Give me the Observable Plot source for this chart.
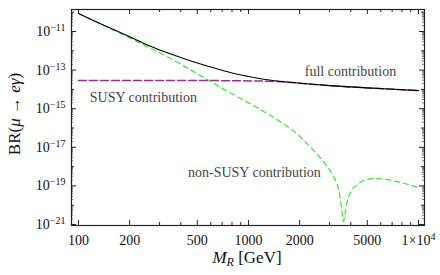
<!DOCTYPE html>
<html>
<head>
<meta charset="utf-8">
<script src="https://cdn.jsdelivr.net/npm/d3@7"></script>
<script src="https://cdn.jsdelivr.net/npm/@observablehq/plot@0.6"></script>
<style>
  html, body { margin: 0; padding: 0; background: #fff; }
  #chart { width: 440px; height: 275px; }
</style>
</head>
<body>
<div id="chart"></div>
<script>
// ---- data (M_R in GeV, BR values) ----
const massFull = [100, 150, 200, 265, 350, 450, 600, 800, 1000, 1300, 1700, 2000, 3000, 5000, 10000];
const brFull   = [8.5e-11, 1.66e-11, 5.4e-12, 1.74e-12, 6.8e-13, 3.16e-13, 1.45e-13, 7.1e-14, 4.7e-14, 3.16e-14, 2.4e-14, 2.09e-14, 1.58e-14, 1.2e-14, 8.7e-15];

const massSusy = [100, 300, 600, 1000, 1300, 1700, 2000, 3000, 5000, 10000];
const brSusy   = [2.9e-14, 2.9e-14, 2.88e-14, 2.75e-14, 2.66e-14, 2.37e-14, 2.09e-14, 1.58e-14, 1.2e-14, 8.7e-15];

const massNonSusy = [100, 150, 210, 265, 335, 415, 575, 685, 1030, 1180, 1700, 1860, 2020, 2320, 2650, 2880, 3160, 3380, 3520, 3620, 3770, 3980, 4380, 4750, 5590, 6570, 7840, 10000];
const brNonSusy   = [8.5e-11, 1.58e-11, 3.8e-12, 1.35e-12, 4.8e-13, 1.66e-13, 3.16e-14, 1.26e-14, 1.78e-15, 8.9e-16, 1.17e-16, 6.6e-17, 3.4e-17, 1.0e-17, 2.8e-18, 1.12e-18, 3.16e-19, 7.1e-20, 8.9e-21, 1.45e-21, 1.1e-20, 4.6e-20, 1.17e-19, 1.9e-19, 2.4e-19, 2.1e-19, 1.5e-19, 8.3e-20];

const xTickValues = [100, 200, 500, 1000, 2000, 5000, 10000];
const xMinorTicks = [300, 400, 600, 700, 800, 900, 3000, 4000, 6000, 7000, 8000, 9000];
const yTickValues = [1e-11, 1e-13, 1e-15, 1e-17, 1e-19, 1e-21];
const yEvenTicks  = [1e-10, 1e-12, 1e-14, 1e-16, 1e-18, 1e-20];

const labelTexts = ["full contribution", "SUSY contribution", "non-SUSY contribution"];
const labelMass  = [3980, 241, 1084];
const labelBR    = [8.5e-14, 3.8e-15, 4.9e-19];

// ---- build tables ----
const zip = (xs, ys) => xs.map((x, i) => ({x, y: ys[i]}));
const full = zip(massFull, brFull);
const susy = zip(massSusy, brSusy);
const nonSusy = zip(massNonSusy, brNonSusy);
const labels = labelTexts.map((t, i) => ({t, x: labelMass[i], y: labelBR[i]}));

const yMinor = [];
for (let e = -22; e <= -10; e++) for (let m = 2; m <= 9; m++) {
  const v = m * Math.pow(10, e);
  if (v > Math.pow(10, -21.05) && v < Math.pow(10, -9.86)) yMinor.push(v);
}

const FONT = "Liberation Serif";
const H = 216; // frame inner height
const W = 353; // frame inner width

const plot = Plot.plot({
  width: 440,
  height: 275,
  marginLeft: 71,
  marginRight: 16,
  marginTop: 9,
  marginBottom: 50,
  style: {fontFamily: FONT, fontSize: "14px", color: "#111", background: "#fff"},
  x: {type: "log", domain: [91, 10850]},
  y: {type: "log", domain: [Math.pow(10, -21.05), Math.pow(10, -9.86)]},
  marks: [
    // ticks (inward, on all four sides)
    Plot.tickX(xTickValues, {x: d => d, insetTop: H - 5, stroke: "#222"}),
    Plot.tickX(xTickValues, {x: d => d, insetBottom: H - 5, stroke: "#222"}),
    Plot.tickX(xMinorTicks, {x: d => d, insetTop: H - 3, stroke: "#222"}),
    Plot.tickX(xMinorTicks, {x: d => d, insetBottom: H - 3, stroke: "#222"}),
    Plot.tickY(yTickValues, {y: d => d, insetRight: W - 5, stroke: "#222"}),
    Plot.tickY(yTickValues, {y: d => d, insetLeft: W - 5, stroke: "#222"}),
    Plot.tickY(yEvenTicks, {y: d => d, insetRight: W - 3, stroke: "#222"}),
    Plot.tickY(yEvenTicks, {y: d => d, insetLeft: W - 3, stroke: "#222"}),
    Plot.tickY(yMinor, {y: d => d, insetRight: W - 2, stroke: "#444", strokeWidth: 0.7}),
    Plot.tickY(yMinor, {y: d => d, insetLeft: W - 2, stroke: "#444", strokeWidth: 0.7}),
    // axes (labels only)
    Plot.axisX({ticks: xTickValues, tickSize: 0, tickPadding: 10, label: null,
      tickFormat: d => d === 10000 ? "1×10^4" : String(d), fontSize: 14, fontFamily: FONT}),
    Plot.axisY({ticks: yTickValues, tickSize: 0, tickPadding: 6, label: null,
      tickFormat: d => "10^" + Math.round(Math.log10(d)), fontSize: 14, fontFamily: FONT}),
    // curves
    Plot.line(susy, {x: "x", y: "y", stroke: "#952f95", strokeWidth: 1.5, strokeDasharray: "8,3", curve: "catmull-rom", clip: true}),
    Plot.line(nonSusy, {x: "x", y: "y", stroke: "#2ee82e", strokeWidth: 1.2, strokeDasharray: "5,4", curve: "monotone-x", clip: true}),
    Plot.line(full, {x: "x", y: "y", stroke: "#000", strokeWidth: 1.1, curve: "catmull-rom", clip: true}),
    // annotations
    Plot.text(labels, {x: "x", y: "y", text: "t", fill: "#444", fontSize: 14, fontFamily: FONT, textAnchor: "middle"}),
    Plot.frame({stroke: "#222", strokeWidth: 1.2})
  ]
});

document.getElementById("chart").appendChild(plot);

// force serif font on all text
d3.select(plot).selectAll("text").attr("font-family", FONT).style("font-family", FONT);

// superscripts in tick labels
d3.select(plot).selectAll('g[aria-label="x-axis tick label"] text, g[aria-label="y-axis tick label"] text').each(function() {
  const t = this.textContent;
  const m = t.match(/^(.*)\^(-?\d+)$/);
  if (!m) return;
  const sel = d3.select(this);
  sel.text(null);
  sel.append("tspan").text(m[1]);
  sel.append("tspan").attr("dy", "-0.5em").attr("font-size", "10px").text(m[2].replace("-", "−"));
});

// axis titles
const svg = d3.select(plot);
const yl = svg.append("text")
  .attr("transform", "translate(20,114) rotate(-90)")
  .attr("text-anchor", "middle")
  .attr("font-family", FONT).attr("font-size", 17).attr("fill", "#111");
yl.append("tspan").text("BR(");
yl.append("tspan").attr("font-style", "italic").text("μ");
yl.append("tspan").text(" → ");
yl.append("tspan").attr("font-style", "italic").text("eγ");
yl.append("tspan").text(")");

const xl = svg.append("text")
  .attr("x", 247).attr("y", 263)
  .attr("text-anchor", "middle")
  .attr("font-family", FONT).attr("font-size", 17).attr("fill", "#111");
xl.append("tspan").attr("font-style", "italic").text("M");
xl.append("tspan").attr("font-style", "italic").attr("font-size", 12).attr("dy", 3).text("R");
xl.append("tspan").attr("dy", -3).text(" [GeV]");
</script>
</body>
</html>
